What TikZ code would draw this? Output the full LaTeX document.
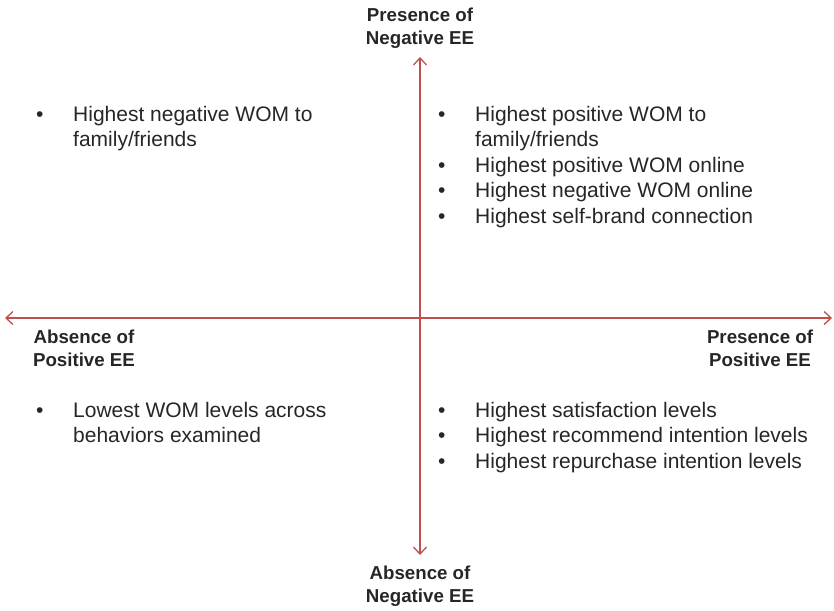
\documentclass[tikz,border=0pt]{standalone}
\usepackage{fontspec}
\setmainfont{Liberation Sans}
\usetikzlibrary{arrows.meta}

\definecolor{axisred}{RGB}{192,80,77}
\definecolor{textgray}{RGB}{38,38,38}

\begin{document}
\begin{tikzpicture}[x=1pt,y=-1pt,>={Straight Barb[length=7pt,width=13pt]}]
  \tikzset{axislabel/.style={font=\fontsize{18.7}{23}\selectfont\bfseries,align=center,text=textgray,inner sep=0pt,anchor=base},
    itemlist/.style={font=\fontsize{21}{25.5}\selectfont,text=textgray,inner sep=0pt,anchor=base west},
    axis/.style={<->,axisred,line width=1.3pt}}
  \useasboundingbox (0,0) rectangle (834,610);

  % axes
  \coordinate (west)  at (5,318);
  \coordinate (east)  at (832,318);
  \coordinate (north) at (420,57);
  \coordinate (south) at (420,555);
  \draw[axis] (west) -- (east);
  \draw[axis] (north) -- (south);

  % axis ends (anchored on the last line)
  \node[axislabel] (negpres) at (420,45)  {Presence of\\Negative EE};
  \node[axislabel] (negabs)  at (420,602) {Absence of\\Negative EE};
  \node[axislabel] (posabs)  at (84,366)  {Absence of\\Positive EE};
  \node[axislabel] (pospres) at (760,366) {Presence of\\Positive EE};

  % quadrants
  \node[itemlist] (topleft) at (36,121) {\begin{tabular}[t]{@{}p{37pt}@{}l@{}}
    \textbullet & Highest negative WOM to\\
                & family/friends
  \end{tabular}};
  \node[itemlist] (topright) at (438,121) {\begin{tabular}[t]{@{}p{37pt}@{}l@{}}
    \textbullet & Highest positive WOM to\\
                & family/friends\\
    \textbullet & Highest positive WOM online\\
    \textbullet & Highest negative WOM online\\
    \textbullet & Highest self-brand connection
  \end{tabular}};
  \node[itemlist] (botleft) at (36,417) {\begin{tabular}[t]{@{}p{37pt}@{}l@{}}
    \textbullet & Lowest WOM levels across\\
                & behaviors examined
  \end{tabular}};
  \node[itemlist] (botright) at (438,417) {\begin{tabular}[t]{@{}p{37pt}@{}l@{}}
    \textbullet & Highest satisfaction levels\\
    \textbullet & Highest recommend intention levels\\
    \textbullet & Highest repurchase intention levels
  \end{tabular}};
\end{tikzpicture}
\end{document}
